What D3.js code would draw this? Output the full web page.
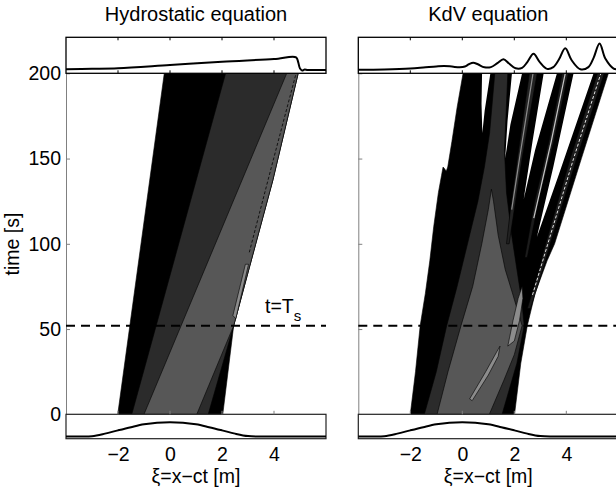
<!DOCTYPE html>
<html>
<head>
<meta charset="UTF-8">
<script src="https://d3js.org/d3.v7.min.js"></script>
<style>
  body { margin: 0; background: #fff; }
  text { font-family: "Liberation Sans", Arial, sans-serif; font-size: 19.5px; fill: #000; }
</style>
</head>
<body>
<svg id="chart" width="616" height="491"></svg>
<script>
// ---- axes ----
const xTicks = [-2, 0, 2, 4];
const tTicks = [0, 50, 100, 150, 200];
const Ts = 52; // shock formation time

// ---- surface profiles (eta relative to the initial crest) ----
const initXi  = [-4, -3.5, -3, -2.5, -2, -1.5, -1, -0.5, 0, 0.5, 1, 1.5, 2, 2.5, 3, 3.5, 4, 6];
const initEta = [0, 0, 0.02, 0.2, 0.43, 0.65, 0.85, 0.97, 1, 0.97, 0.85, 0.65, 0.43, 0.2, 0.03, 0, 0, 0];

const hydroXi  = [-4, -3, -2, 0, 2, 4, 4.85, 4.93, 5.0, 5.08, 5.18, 5.3, 6];
const hydroEta = [0.05, 0.08, 0.12, 0.35, 0.58, 0.77, 0.89, 0.55, 0.1, -0.03, 0.03, 0, 0];

const kdvXi  = [-4, -3, -2, -1.5, -1, -0.7, -0.4, -0.1, 0.1, 0.25, 0.42, 0.6, 0.85, 1.1, 1.35, 1.58, 1.8, 2.05,
                2.3, 2.5, 2.74, 2.98, 3.26, 3.5, 3.72, 3.96, 4.2, 4.54, 4.85, 5.05, 5.28, 5.5, 5.82, 6];
const kdvEta = [0.02, 0.04, 0.1, 0.17, 0.25, 0.28, 0.24, 0.19, 0.24, 0.4, 0.51, 0.4, 0.19, 0.2, 0.48, 0.76, 0.45, 0.12,
                0.15, 0.55, 1.13, 0.55, 0.08, 0.2, 0.75, 1.52, 0.7, 0.05, 0.2, 0.85, 1.85, 0.8, 0.1, 0.04];

// ---- contour regions, [xi, t] ----
const hydroLow  = [[-2.01, 0], [-0.22, 200], [4.93, 200], [3.95, 137], [2.45, 52], [2.03, 0]];
const hydroMid  = [[-1.47, 0], [2.14, 200], [4.93, 200], [3.95, 137], [2.45, 52], [1.47, 0]];
const hydroHigh = [[-1.0, 0], [4.49, 200], [4.93, 200], [3.95, 137], [2.45, 52], [1.03, 0]];
const hydroPeak = [[2.42, 58], [2.9, 88], [3.02, 88], [2.53, 56]];
const hydroDash = [[3.05, 95], [3.9, 145], [4.85, 200]];

const kdvLow = [[-2.0, 0], [-1.8, 25], [-1.62, 52], [-1.42, 71], [-1.25, 90], [-1.1, 110], [-0.92, 130], [-0.8, 140],
                [-0.74, 145], [-0.68, 144], [-0.62, 142.5], [-0.56, 145], [-0.4, 160], [-0.2, 180], [0.03, 200],
                [5.62, 200], [4.58, 150], [3.55, 100], [3.26, 90], [2.8, 71], [2.5, 52], [2.25, 30], [2.01, 0]];
const kdvMid = [[-1.46, 0], [-1.0, 25], [-0.6, 52], [-0.2, 75], [0.2, 100], [0.6, 125], [0.85, 145], [1.05, 165],
                [1.25, 200], [1.75, 200], [1.68, 175], [1.62, 155], [1.7, 130], [1.9, 105], [2.1, 85], [2.3, 65],
                [2.38, 52], [2.1, 30], [1.53, 0]];
const kdvHigh = [[-0.97, 0], [-0.55, 25], [-0.05, 52], [0.4, 75], [0.75, 100], [1.0, 120], [1.12, 132],
                 [1.2, 125], [1.38, 105], [1.65, 85], [1.95, 70], [2.2, 57], [2.3, 52], [2.0, 35], [1.6, 20], [1.04, 0]];
const kdvPeakA = [[0.28, 9], [0.9, 25], [1.3, 36], [1.45, 40], [1.38, 34], [1.0, 23], [0.38, 8]];
const kdvPeakB = [[1.75, 40], [1.95, 55], [2.15, 68], [2.3, 75], [2.33, 68], [2.2, 55], [2.0, 43]];
const kdvCoreC = [[1.7, 100], [1.85, 120], [2.12, 150], [2.58, 200], [2.88, 200], [2.3, 150], [2.0, 120], [1.8, 100]];
const kdvCoreD = [[2.4, 92], [2.8, 126], [3.33, 160], [3.84, 200], [4.08, 200], [3.52, 160], [2.95, 126], [2.5, 92]];
const kdvCoreE = [[2.5, 62], [2.9, 82], [3.15, 97], [4.15, 150], [5.2, 200], [5.46, 200], [4.4, 150], [3.38, 100], [3.1, 85], [2.62, 62]];
const kdvLineC = [[1.9, 120], [2.2, 150], [2.72, 200]];
const kdvLineD = [[2.75, 115], [3.42, 160], [3.96, 200]];
const kdvLineE = [[2.7, 70], [3.25, 98], [4.28, 150], [5.33, 200]];
const kdvGap1 = [[0.76, 200], [0.74, 182], [0.77, 165], [0.86, 178], [1.08, 200]];
const kdvGap2 = [[1.91, 200], [1.74, 172], [1.65, 150], [1.85, 170], [2.3, 200]];
const kdvGap3 = [[3.13, 200], [2.7, 160], [2.36, 126], [2.8, 155], [3.64, 200]];
const kdvGap4 = [[4.28, 200], [3.5, 145], [2.87, 104], [3.7, 140], [5.05, 200]];

const grays = ["#000000", "#2b2b2b", "#575757", "#8c8c8c", "#c4c4c4"];

const svg = d3.select("#chart");
const y = d3.scaleLinear().domain([0, 200]).range([414.3, 73.3]);
const etaTop = d3.scaleLinear().domain([0, 1]).range([70, 55.7]);
const etaBot = d3.scaleLinear().domain([0, 1]).range([436.5, 422.2]);

function drawPanel(left, title, regions, lines, finXi, finEta, showLabels) {
    const x = d3.scaleLinear().domain([-4, 6]).range([left, left + 260]);
    const g = svg.append("g");
    const poly = d3.line().x(d => x(d[0])).y(d => y(d[1]));

    // filled contours
    regions.forEach(r => {
        g.append("path")
            .attr("d", poly(r.pts) + "Z")
            .attr("fill", r.fill)
            .attr("stroke", "#000")
            .attr("stroke-width", r.sw === undefined ? 0.6 : r.sw);
    });
    lines.forEach(l => {
        g.append("path")
            .attr("d", poly(l.pts))
            .attr("fill", "none")
            .attr("stroke", l.color)
            .attr("stroke-width", l.w)
            .attr("stroke-dasharray", l.dash || null);
    });

    // main axes: left line + inward ticks
    const yAxis = g.append("g")
        .attr("transform", `translate(${left},0)`)
        .call(d3.axisLeft(y).tickValues(tTicks).tickSizeInner(-4).tickSizeOuter(0).tickPadding(5)
            .tickFormat(showLabels ? d3.format("d") : ""));
    yAxis.select(".domain").attr("stroke", "#808080");
    yAxis.selectAll(".tick line").attr("stroke", "#808080");
    yAxis.selectAll("text").style("font-size", "19.5px").attr("fill", "#000");

    // shock time
    g.append("line")
        .attr("x1", x(-4)).attr("x2", x(6))
        .attr("y1", y(Ts)).attr("y2", y(Ts))
        .attr("stroke", "#000").attr("stroke-width", 2)
        .attr("stroke-dasharray", "9,6");

    // top subplot (t = 200)
    const prof = d3.line().curve(d3.curveCatmullRom.alpha(0.5));
    g.append("rect").attr("x", left).attr("y", 37.3).attr("width", 260).attr("height", 36)
        .attr("fill", "#fff").attr("stroke", "#000").attr("stroke-width", 1.3);
    g.append("path")
        .attr("d", prof(finXi.map((v, i) => [x(v), etaTop(finEta[i])])))
        .attr("fill", "none").attr("stroke", "#000").attr("stroke-width", 2);
    xTicks.forEach(v => {
        g.append("line").attr("x1", x(v)).attr("x2", x(v)).attr("y1", 37.3).attr("y2", 40.3).attr("stroke", "#000");
        g.append("line").attr("x1", x(v)).attr("x2", x(v)).attr("y1", 73.3).attr("y2", 70.3).attr("stroke", "#000");
    });

    // bottom subplot (t = 0)
    g.append("rect").attr("x", left).attr("y", 414.3).attr("width", 260).attr("height", 24.4)
        .attr("fill", "#fff").attr("stroke", "#222").attr("stroke-width", 1.2);
    g.append("path")
        .attr("d", prof(initXi.map((v, i) => [x(v), etaBot(initEta[i])])))
        .attr("fill", "none").attr("stroke", "#000").attr("stroke-width", 2);
    xTicks.forEach(v => {
        g.append("line").attr("x1", x(v)).attr("x2", x(v)).attr("y1", 414.3).attr("y2", 410.8).attr("stroke", "#808080");
    });

    // x tick labels and label
    const xAxis = g.append("g")
        .attr("transform", "translate(0,438.7)")
        .call(d3.axisBottom(x).tickValues(xTicks).tickSize(0).tickPadding(8));
    xAxis.select(".domain").remove();
    xAxis.selectAll("text").style("font-size", "19.5px").attr("fill", "#000");

    g.append("text")
        .attr("x", left + 130).attr("y", 482.5)
        .attr("text-anchor", "middle")
        .text("ξ=x−ct [m]");

    g.append("text")
        .attr("x", left + 130).attr("y", 21)
        .attr("text-anchor", "middle")
        .style("font-size", "20px")
        .text(title);

    return x;
}

drawPanel(66, "Hydrostatic equation",
    [
        { pts: hydroLow, fill: grays[0] },
        { pts: hydroMid, fill: grays[1] },
        { pts: hydroHigh, fill: grays[2] },
        { pts: hydroPeak, fill: grays[3] }
    ],
    [
        { pts: hydroDash, color: "#000", w: 0.8, dash: "3,2" }
    ],
    hydroXi, hydroEta, true);

drawPanel(358.3, "KdV equation",
    [
        { pts: kdvLow, fill: grays[0] },
        { pts: kdvMid, fill: grays[1] },
        { pts: kdvHigh, fill: grays[2] },
        { pts: kdvPeakA, fill: grays[3] },
        { pts: kdvPeakB, fill: grays[3] },
        { pts: kdvCoreC, fill: "#222" },
        { pts: kdvCoreD, fill: "#1c1c1c" },
        { pts: kdvCoreE, fill: "#1c1c1c" },
        { pts: kdvGap1, fill: "#fff", sw: 0 },
        { pts: kdvGap2, fill: "#fff", sw: 0 },
        { pts: kdvGap3, fill: "#fff", sw: 0 },
        { pts: kdvGap4, fill: "#fff", sw: 0 }
    ],
    [
        { pts: kdvLineC, color: grays[3], w: 1.2 },
        { pts: kdvLineD, color: grays[4], w: 1.2 },
        { pts: kdvLineE, color: "#e6e6e6", w: 1, dash: "3,2" }
    ],
    kdvXi, kdvEta, false);

// y label
svg.append("text")
    .attr("transform", "translate(19,244) rotate(-90)")
    .attr("text-anchor", "middle")
    .text("time [s]");

// shock label
const lab = svg.append("text").attr("x", 265).attr("y", 312.7).text("t=T");
lab.append("tspan").attr("dy", 8).style("font-size", "15px").text("s");
</script>
</body>
</html>
